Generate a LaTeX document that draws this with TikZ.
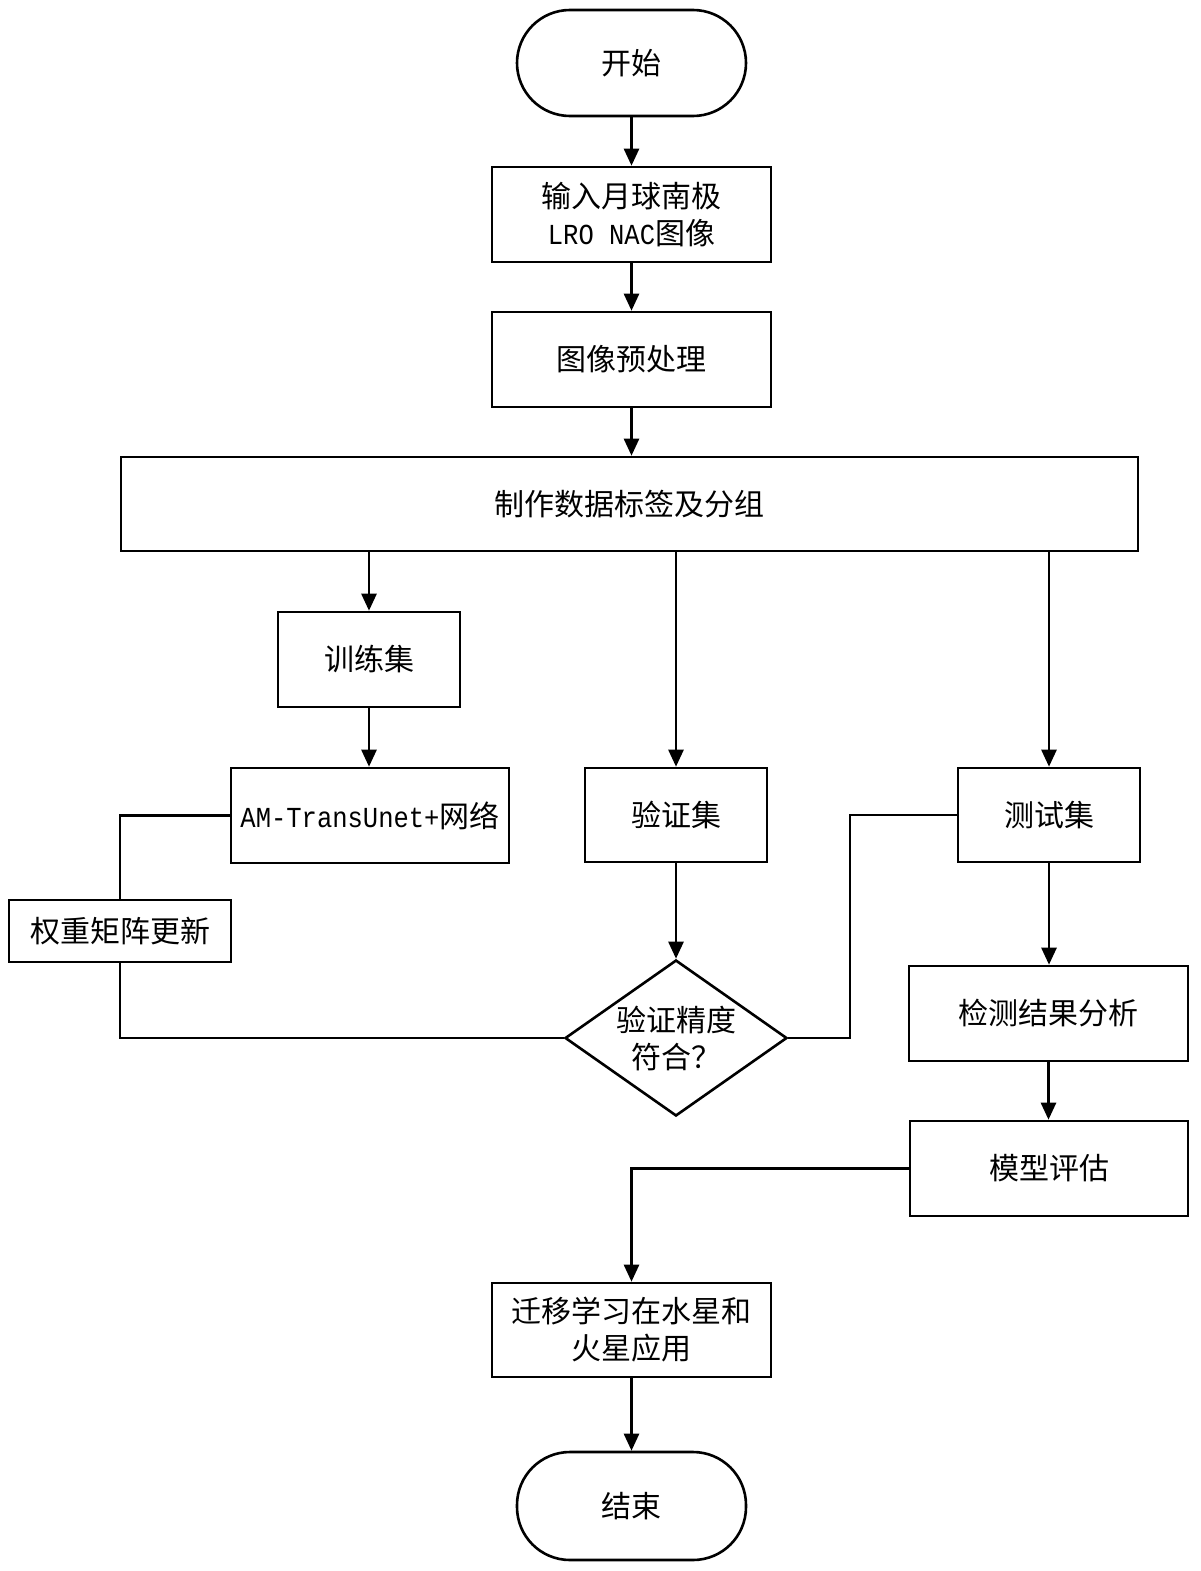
\documentclass[tikz,border=0pt]{standalone}
\usepackage{fontspec}
\setmainfont{Noto Sans CJK SC}
\newfontfamily\latinmono[FakeStretch=0.88]{Liberation Mono}
\usetikzlibrary{arrows.meta,shapes.geometric}
\begin{document}
\begin{tikzpicture}[x=1pt,y=-1pt,
  every node/.style={font=\fontsize{30}{37}\selectfont, align=center},
  box/.style={draw, line width=2.6pt, rectangle, inner sep=0pt},
  term/.style={draw, line width=2.6pt, rectangle, rounded corners=53pt, minimum width=229pt, minimum height=106pt},
  dec/.style={draw, line width=2.6pt, diamond, shape aspect=1.42, inner sep=0pt, minimum width=222pt, minimum height=156pt},
  conn/.style={line width=2.6pt},
  arr/.style={conn, -{Triangle[length=17pt,width=15pt]}}]
\useasboundingbox[fill=white] (0,0) rectangle (1200,1571);
\node[term] (start) at (631.5,63) {开始};
\node[box, minimum width=279pt, minimum height=95pt] (in) at (631.5,214.5) {输入月球南极\\{\latinmono\fontsize{29}{37}\selectfont LRO NAC}图像};
\node[box, minimum width=279pt, minimum height=95pt] (pre) at (631.5,359.5) {图像预处理};
\node[box, minimum width=1017pt, minimum height=94pt] (label) at (629.5,504) {制作数据标签及分组};
\node[box, minimum width=182pt, minimum height=95pt] (train) at (369,659.5) {训练集};
\node[box, minimum width=278pt, minimum height=95pt] (am) at (370,815.5) {{\latinmono\fontsize{29}{37}\selectfont AM-TransUnet+}网络};
\node[box, minimum width=182pt, minimum height=94pt] (val) at (676,815) {验证集};
\node[box, minimum width=182pt, minimum height=94pt] (test) at (1049,815) {测试集};
\node[box, minimum width=222pt, minimum height=62pt] (weight) at (120,931) {权重矩阵更新};
\node[dec] (dia) at (676,1038) {验证精度\\符合？};
\node[box, minimum width=279pt, minimum height=95pt] (ana) at (1048.5,1013.5) {检测结果分析};
\node[box, minimum width=278pt, minimum height=95pt] (model) at (1049,1168.5) {模型评估};
\node[box, minimum width=279pt, minimum height=94pt] (trans) at (631.5,1330) {迁移学习在水星和\\火星应用};
\node[term, minimum height=108pt] (end) at (631.5,1506) {结束};
\draw[arr] (start.south) -- (in.north);
\draw[arr] (in.south) -- (pre.north);
\draw[arr] (pre.south) -- (label.north -| pre.south);
\draw[arr] (train.north |- label.south) -- (train.north);
\draw[arr] (val.north |- label.south) -- (val.north);
\draw[arr] (test.north |- label.south) -- (test.north);
\draw[arr] (train.south) -- (am.north -| train.south);
\draw[conn] (am.west) -| (weight.north);
\draw[conn] (weight.south) |- (dia.west);
\draw[arr] (val.south) -- (dia.north);
\coordinate (bend) at (850,1038);
\draw[conn] (dia.east) -- (bend) |- (test.west);
\draw[arr] (test.south) -- (ana.north -| test.south);
\draw[arr] (ana.south) -- (model.north -| ana.south);
\draw[arr] (model.west) -| (trans.north);
\draw[arr] (trans.south) -- (end.north);
\end{tikzpicture}
\end{document}
